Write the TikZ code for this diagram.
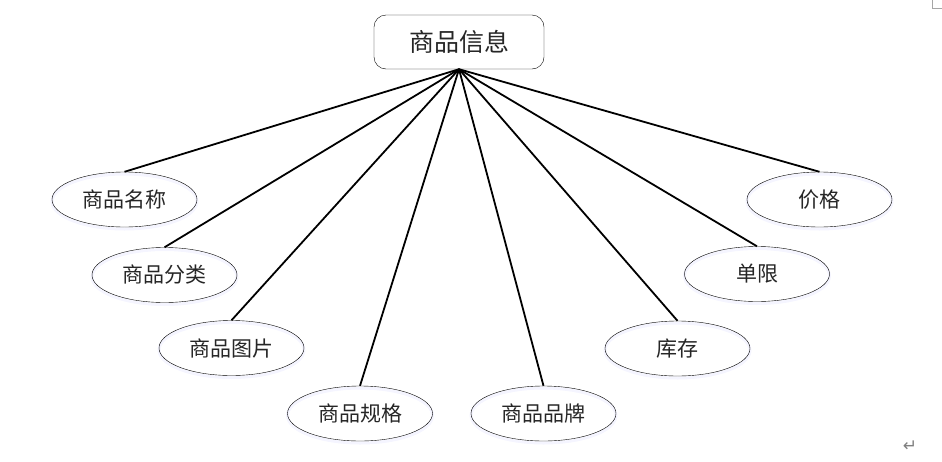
\documentclass[tikz,border=0pt]{standalone}
\usepackage{fontspec}
\newfontfamily\cjk{Noto Sans CJK SC}
\newfontfamily\symfont{DejaVu Sans}
\usepackage{tikz}
\usetikzlibrary{shapes.geometric}
\tikzset{
  entity/.style={
    rectangle,
    rounded corners=12pt,
    minimum width=170pt,
    minimum height=54pt,
    inner sep=0pt,
    align=center,
    draw=black,
    font=\cjk\fontsize{25}{29}\selectfont,
    text=black!85
    },
  attr/.style={
    ellipse,
    minimum width=145pt,
    minimum height=55pt,
    inner sep=0pt,
    align=center,
    draw=black,
    preaction={draw=blue!4, line width=3pt, transform canvas={yshift=-2pt}},
    font=\cjk\fontsize{21}{25}\selectfont,
    text=black!85
    },
  link/.style={draw, line width=1.8pt},
}

\begin{document}
\begin{tikzpicture}[
            x = 1pt, y = -1pt, % pixel grid of the picture
            thin % line style
        ]
         \useasboundingbox (0,0) rectangle (942,461);

         \node[entity] (info) at (459,42) {商品信息};

         \node[attr] (mc) at (124.5,199.5) {商品名称};
         \node[attr] (fl) at (164.5,275)   {商品分类};
         \node[attr] (tp) at (231.5,348)   {商品图片};
         \node[attr] (gg) at (360,413.5)   {商品规格};
         \node[attr] (pp) at (543.5,413.5) {商品品牌};
         \node[attr] (kc) at (677.5,348.5) {库存};
         \node[attr] (dx) at (757,274)     {单限};
         \node[attr] (jg) at (819.5,199.5) {价格};

         \foreach \a in {mc,fl,tp,gg,pp,kc,dx,jg}
           \path[link] (info.south) -- (\a.north);

         % page marks
         \draw[gray!70, semithick] (932,0) -- (932,8) -- (942,8);
         \node[text=gray, font=\symfont\fontsize{17}{19}\selectfont] (ret) at (910,446) {↵};
  \end{tikzpicture}
\end{document}
